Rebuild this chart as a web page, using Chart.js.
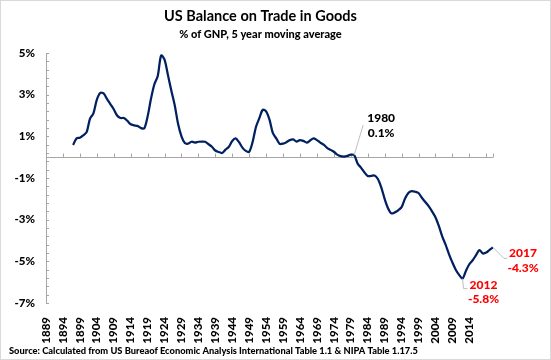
<!DOCTYPE html>
<html>
<head>
<meta charset="utf-8">
<title>US Balance on Trade in Goods</title>
<script src="https://cdn.jsdelivr.net/npm/chart.js@4.4.0/dist/chart.umd.min.js"></script>
<style>
    html, body { margin: 0; padding: 0; background: #fff; }
</style>
</head>
<body>
<canvas id="tradeChart" width="551" height="360"></canvas>
<script>
// categories: one per year, 1889 .. 2021
const firstYear = 1889;
const lastYear = 2021;
const years = [];
for (let yr = firstYear; yr <= lastYear; yr++) years.push(yr);

// % of GNP, 5 year moving average (series starts 1897)
const seriesStart = 1897;
const balance = [
    0.58, 0.90, 0.93, 1.05, 1.20, 1.85, 2.10, 2.75, 3.08, 3.06,   // 1897-1906
    2.80, 2.55, 2.30, 2.00, 1.88, 1.88, 1.75, 1.58, 1.53, 1.50,   // 1907-1916
    1.40, 1.38, 1.95, 2.80, 3.50, 3.90, 4.88, 4.68, 3.95, 3.20,   // 1917-1926
    2.50, 1.60, 1.00, 0.68, 0.65, 0.74, 0.70, 0.74, 0.75, 0.74,   // 1927-1936
    0.62, 0.50, 0.32, 0.25, 0.20, 0.36, 0.50, 0.78, 0.90, 0.72,   // 1937-1946
    0.46, 0.30, 0.26, 0.72, 1.45, 1.87, 2.27, 2.20, 1.80, 1.15,   // 1947-1956
    0.90, 0.64, 0.65, 0.72, 0.82, 0.85, 0.75, 0.82, 0.78, 0.70,   // 1957-1966
    0.80, 0.90, 0.82, 0.70, 0.60, 0.45, 0.35, 0.26, 0.12, 0.05,   // 1967-1976
    0.03, 0.06, 0.12, 0.10, -0.30, -0.50, -0.72, -0.90, -0.90, -0.88, // 1977-1986
    -1.05, -1.45, -2.00, -2.45, -2.70, -2.65, -2.55, -2.40, -2.00, -1.72, // 1987-1996
    -1.63, -1.66, -1.72, -1.95, -2.15, -2.35, -2.60, -2.88, -3.30, -3.80, // 1997-2006
    -4.20, -4.65, -5.05, -5.40, -5.65, -5.83, -5.46, -5.14, -4.95, -4.70, // 2007-2016
    -4.46, -4.62, -4.58, -4.45, -4.33                                     // 2017-2021
];

// axis labels
const yLabelValues = [-7, -5, -3, -1, 1, 3, 5];
const lastLabelYear = 2014;

// callouts: anchor year on the line and the text shown
const callouts = [
    { anchor: 1980, lines: ["1980", "0.1%"], color: "#000000" },
    { anchor: 2012, lines: ["2012", "-5.8%"], color: "#ff0000" },
    { anchor: 2021, lines: ["2017", "-4.3%"], color: "#ff0000" }
];

const titleText = "US Balance on Trade in Goods";
const subtitleText = "% of GNP, 5 year moving average";
const sourceText = "Source: Calculated from US Bureaof Economic Analysis International Table 1.1 & NIPA Table 1.17.5";

const lineData = years.map(yr => yr < seriesStart ? null : balance[yr - seriesStart]);

// where each callout's text and leader go, relative to its point
const calloutLayout = {
    1980: { dx: 27, dy: [-37, -22], leader: [[0, 0], [9, -30]] },
    2012: { dx: 21, dy: [6, 20], leader: [[0, 0], [1, 10], [5, 10]] },
    2021: { dx: 30, dy: [6, 21], leader: [[0, 0], [11, 11], [14, 11]] }
};

const FONT = "Lato, 'Liberation Sans', sans-serif";
const AXIS_GREY = "#a6a6a6";

const chartFrame = {
    id: "chartFrame",
    beforeDraw(chart) {
        const ctx = chart.ctx;
        ctx.save();
        ctx.fillStyle = "#ffffff";
        ctx.fillRect(0, 0, chart.width, chart.height);
        ctx.strokeStyle = "#d9d9d9";
        ctx.lineWidth = 1;
        ctx.strokeRect(0.5, 0.5, chart.width - 1, chart.height - 1);
        ctx.restore();
    },
    beforeDatasetsDraw(chart) {
        const { ctx, chartArea: area, scales: { x, y } } = chart;
        const y0 = Math.round(y.getPixelForValue(0)) + 0.5;
        ctx.save();
        ctx.strokeStyle = AXIS_GREY;
        ctx.lineWidth = 1;
        ctx.beginPath();
        // zero line with tick marks every 5 years
        ctx.moveTo(area.left, y0);
        ctx.lineTo(area.right, y0);
        years.forEach((yr, i) => {
            if ((yr - firstYear) % 5 === 0 || i === years.length - 1) {
                const px = Math.round(x.getPixelForValue(i)) + 0.5;
                ctx.moveTo(px, y0);
                ctx.lineTo(px, y0 - 4);
            }
        });
        // y minor ticks pointing inward
        y.ticks.forEach((t, i) => {
            const py = Math.round(y.getPixelForTick(i)) + 0.5;
            ctx.moveTo(area.left, py);
            ctx.lineTo(area.left + 3, py);
        });
        ctx.stroke();
        ctx.restore();
    },
    afterDatasetsDraw(chart) {
        const { ctx, scales: { x, y } } = chart;
        ctx.save();
        callouts.forEach(c => {
            const idx = years.indexOf(c.anchor);
            const px = x.getPixelForValue(idx);
            const py = y.getPixelForValue(lineData[idx]);
            const lay = calloutLayout[c.anchor];
            ctx.strokeStyle = "#bfbfbf";
            ctx.lineWidth = 1;
            ctx.beginPath();
            lay.leader.forEach((p, k) => {
                if (k === 0) ctx.moveTo(px + p[0], py + p[1]);
                else ctx.lineTo(px + p[0], py + p[1]);
            });
            ctx.stroke();
            ctx.fillStyle = c.color;
            ctx.font = "900 12px " + FONT;
            ctx.textAlign = "center";
            ctx.textBaseline = "middle";
            c.lines.forEach((t, k) => ctx.fillText(t, px + lay.dx, py + lay.dy[k]));
        });

        // titles and source line
        ctx.fillStyle = "#000000";
        ctx.textBaseline = "middle";
        ctx.textAlign = "center";
        ctx.font = "bold 14.5px " + FONT;
        ctx.fillText(titleText, 260.5, 16.5);
        ctx.font = "900 11px " + FONT;
        ctx.fillText(subtitleText, 260.5, 34);
        ctx.textAlign = "left";
        ctx.font = "900 9.3px " + FONT;
        ctx.fillText(sourceText, 9, 351);
        ctx.restore();
    }
};

const ctx = document.getElementById("tradeChart").getContext("2d");

new Chart(ctx, {
    type: "line",
    data: {
        labels: years,
        datasets: [{
            label: "Balance on trade in goods",
            data: lineData,
            borderColor: "#002060",
            borderWidth: 2.25,
            pointRadius: 0,
            tension: 0.3,
            fill: false
        }]
    },
    options: {
        responsive: false,
        animation: false,
        layout: { padding: { left: 8, right: 58, top: 53, bottom: 0 } },
        plugins: {
            legend: { display: false },
            tooltip: { enabled: false }
        },
        scales: {
            x: {
                type: "category",
                offset: false,
                grid: { display: false },
                border: { display: false },
                afterFit(scale) { scale.height = 57; },
                ticks: {
                    autoSkip: false,
                    minRotation: 90,
                    maxRotation: 90,
                    padding: 6,
                    color: "#000",
                    font: { family: FONT, size: 11.5, weight: "900" },
                    callback(value, index) {
                        const yr = years[index];
                        return ((yr - firstYear) % 5 === 0 && yr <= lastLabelYear) ? String(yr) : null;
                    }
                }
            },
            y: {
                min: -7,
                max: 5,
                grid: { display: true, drawOnChartArea: false, drawTicks: false },
                border: { display: true, color: AXIS_GREY, width: 1 },
                afterFit(scale) { scale.width = 38; },
                ticks: {
                    stepSize: 0.4,
                    autoSkip: false,
                    padding: 11,
                    color: "#000",
                    font: { family: FONT, size: 11.5, weight: "900" },
                    callback(value, index) {
                        const v = Math.round(value);
                        return (index % 5 === 0 && yLabelValues.includes(v)) ? v + "%" : "";
                    }
                }
            }
        }
    },
    plugins: [chartFrame]
});
</script>
</body>
</html>
